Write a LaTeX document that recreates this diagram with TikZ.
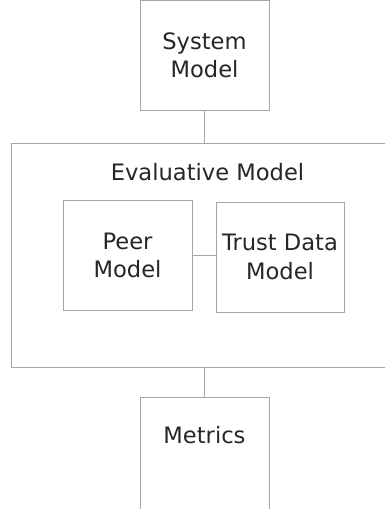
\documentclass[tikz,border=0pt]{standalone}
\usepackage{fontspec}
\setmainfont{DejaVu Sans}
\begin{document}
\begin{tikzpicture}[x=1pt,y=-1pt,
        box/.style={draw=black!35,line width=0.8pt,minimum width=129pt,minimum height=110pt,
            align=center,text=black!85,font=\fontsize{22.6}{28.5}\selectfont},
        link/.style={draw=black!35,line width=0.8pt}]
            \useasboundingbox (0,0) rectangle (385,509);
            \node[box] (sys) at (204.5,55.5) {System\\Model};
            \node[box,minimum width=387pt,minimum height=224pt] (eval) at (204.5,255) {};
            \node[text=black!85,font=\fontsize{22.6}{28.5}\selectfont] (evaltitle) at (207.5,172) {Evaluative Model};
            \node[box] (peer) at (127.5,255.5) {Peer\\Model};
            \node[box,minimum width=128pt] (trust) at (280,257) {Trust Data\\Model};
            \node[box,anchor=north,inner ysep=0pt,text height=46pt,text depth=80pt] (metrics) at (204.5,397) {Metrics};
            \draw[link] (sys.south) -- (eval.north);
            \draw[link] (peer.east) -- (peer.east -| trust.west);
            \draw[link] (eval.south) -- (metrics.north);
        \end{tikzpicture}
\end{document}
